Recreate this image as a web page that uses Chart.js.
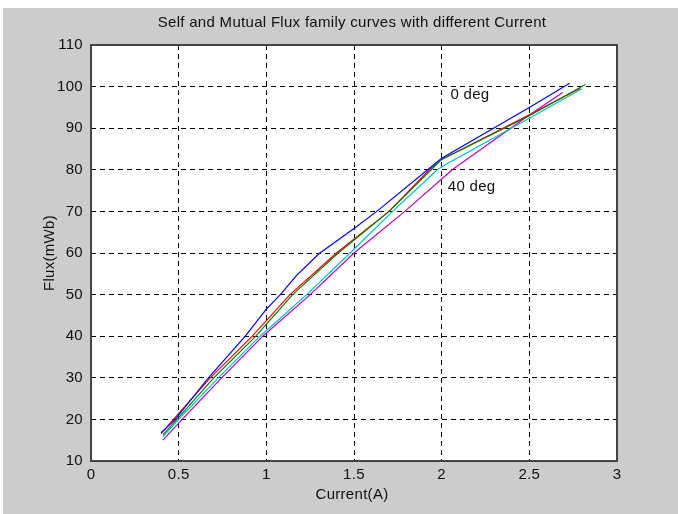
<!DOCTYPE html>
<html>
<head>
<meta charset="utf-8">
<script src="https://cdn.jsdelivr.net/npm/chart.js@4.4.1/dist/chart.umd.min.js"></script>
<style>
  html, body { margin: 0; padding: 0; background: #fff; }
  canvas { display: block; }
</style>
</head>
<body>
<canvas id="fluxChart" width="678" height="514"></canvas>
<script>
/* ===================== DATA ===================== */
const xTicks = [0, 0.5, 1, 1.5, 2, 2.5, 3];
const yTicks = [10, 20, 30, 40, 50, 60, 70, 80, 90, 100, 110];

// rotor angle 0 deg
const current0 = [0.40, 0.48, 0.67, 0.88, 1.00, 1.08, 1.17, 1.30, 1.50, 1.63, 1.92, 2.00, 2.50, 2.73];
const flux0    = [16.8, 20.0, 30.0, 40.0, 46.5, 50.0, 54.5, 59.8, 65.9, 70.0, 80.0, 82.8, 95.0, 100.8];

// 10 deg
const current10 = [0.41, 0.49, 0.70, 0.94, 1.15, 1.41, 1.70, 1.94, 2.00, 2.50, 2.82];
const flux10    = [16.3, 20.0, 30.0, 40.0, 50.0, 60.0, 70.0, 80.0, 82.5, 93.0, 100.5];

// 20 deg
const current20 = [0.40, 0.47, 0.68, 0.92, 1.135, 1.40, 1.70, 1.93, 2.00, 2.50, 2.79];
const flux20    = [16.6, 20.0, 30.0, 40.0, 50.0, 60.0, 70.0, 80.0, 82.5, 93.2, 99.6];

// 30 deg
const current30 = [0.41, 0.50, 0.726, 0.964, 1.23, 1.478, 1.72, 1.975, 2.02, 2.50, 2.80];
const flux30    = [15.8, 20.0, 30.0, 40.0, 50.0, 60.0, 70.0, 80.0, 81.2, 92.4, 99.5];

// 40 deg
const current40 = [0.41, 0.52, 0.745, 0.98, 1.25, 1.50, 1.79, 2.06, 2.50, 2.69];
const flux40    = [15.0, 20.0, 30.0, 40.0, 50.0, 60.0, 70.0, 80.0, 93.2, 98.6];

const curveLabels = ["0 deg", "10 deg", "20 deg", "30 deg", "40 deg"];
const curveColors = ["#0000ff", "#008000", "#ff0000", "#00bfbf", "#bf00bf"];
const curveCurrents = [current0, current10, current20, current30, current40];
const curveFluxes = [flux0, flux10, flux20, flux30, flux40];

// text placed inside the axes, in data units
const noteTexts = ["0 deg", "40 deg"];
const noteX = [2.05, 2.035];
const noteY = [98, 76];

/* ===================== HELPERS ===================== */
const FONT = "'Liberation Sans', Arial, sans-serif";
const FONT_SIZE = 15;

function toPoints(xs, ys) {
  return xs.map((x, i) => ({ x: x, y: ys[i] }));
}

const datasets = curveLabels.map((label, i) => ({
  label: label,
  data: toPoints(curveCurrents[i], curveFluxes[i]),
  borderColor: curveColors[i],
  borderWidth: 1.2,
  pointRadius: 0,
  tension: 0,
  fill: false
}));

/* ===================== FIGURE DECORATION ===================== */
const figurePlugin = {
  id: "figure",
  beforeDraw(chart) {
    const { ctx, chartArea: a, width, height } = chart;
    ctx.save();
    ctx.fillStyle = "#ffffff";
    ctx.fillRect(0, 0, width, height);
    ctx.fillStyle = "#cccccc";
    ctx.fillRect(3, 8, width - 3, height - 8);
    ctx.fillStyle = "#ffffff";
    ctx.fillRect(a.left, a.top, a.right - a.left, a.bottom - a.top);
    ctx.restore();
    // slightly wider glyph spacing for the tick labels too
    ctx.letterSpacing = "0.3px";
  },
  afterDraw(chart) {
    const { ctx, chartArea: a } = chart;
    const xs = chart.scales.x;
    const ys = chart.scales.y;
    ctx.save();

    // axes box
    ctx.strokeStyle = "#444";
    ctx.lineWidth = 2;
    ctx.strokeRect(a.left, a.top, a.right - a.left, a.bottom - a.top);

    ctx.fillStyle = "#111";
    ctx.font = FONT_SIZE + "px " + FONT;
    ctx.letterSpacing = "0.3px";
    ctx.textBaseline = "middle";

    // title
    ctx.textAlign = "center";
    ctx.fillText("Self and Mutual Flux family curves with different Current", (a.left + a.right) / 2 - 2, 23);

    // x axis label
    ctx.fillText("Current(A)", (a.left + a.right) / 2 - 2, 495);

    // y axis label
    ctx.save();
    ctx.translate(50, (a.top + a.bottom) / 2);
    ctx.rotate(-Math.PI / 2);
    ctx.fillText("Flux(mWb)", 0, 0);
    ctx.restore();

    // curve notes
    ctx.textAlign = "left";
    noteTexts.forEach((t, i) => {
      ctx.fillText(t, xs.getPixelForValue(noteX[i]), ys.getPixelForValue(noteY[i]));
    });

    ctx.restore();
  }
};

/* ===================== CHART ===================== */
new Chart(document.getElementById("fluxChart"), {
  type: "line",
  data: { datasets: datasets },
  plugins: [figurePlugin],
  options: {
    responsive: false,
    animation: false,
    devicePixelRatio: 1,
    layout: {
      padding: { top: 45, right: 61, bottom: 0, left: 0 }
    },
    plugins: {
      legend: { display: false },
      tooltip: { enabled: false }
    },
    scales: {
      x: {
        type: "linear",
        min: 0,
        max: 3,
        afterBuildTicks: (s) => { s.ticks = xTicks.map(v => ({ value: v })); },
        afterFit: (s) => { s.height = 53; },
        grid: { color: "#000", lineWidth: 1, drawTicks: false },
        border: { display: false, dash: [5, 4] },
        ticks: {
          color: "#111",
          padding: 5,
          maxRotation: 0,
          font: { family: FONT, size: FONT_SIZE },
          callback: (v) => String(v)
        }
      },
      y: {
        type: "linear",
        min: 10,
        max: 110,
        afterBuildTicks: (s) => { s.ticks = yTicks.map(v => ({ value: v })); },
        afterFit: (s) => { s.width = 91; },
        grid: { color: "#000", lineWidth: 1, drawTicks: false },
        border: { display: false, dash: [5, 4] },
        ticks: {
          color: "#111",
          padding: 8,
          font: { family: FONT, size: FONT_SIZE },
          callback: (v) => String(v)
        }
      }
    }
  }
});
</script>
</body>
</html>
